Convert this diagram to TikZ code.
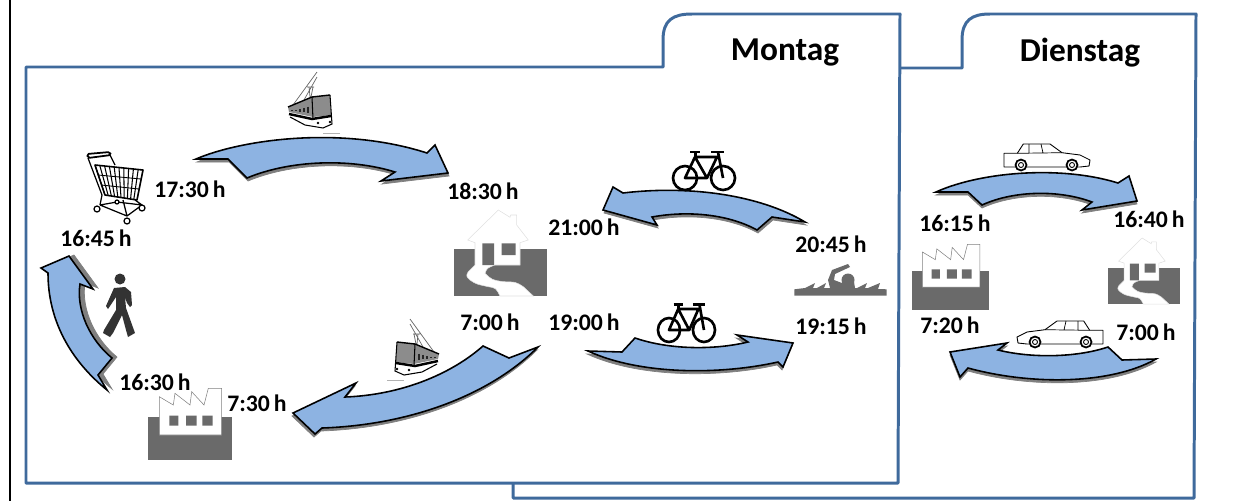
\documentclass[tikz,border=0pt]{standalone}
\usepackage{fontspec}
\setmainfont{Carlito}
\usetikzlibrary{positioning}

\definecolor{rahmenblau}{HTML}{3F6A9C}
\definecolor{pfeilblau}{HTML}{8DB3E2}
\definecolor{schatten}{HTML}{7F7F7F}
\definecolor{boden}{HTML}{6A6A6A}
\definecolor{figur}{HTML}{333333}

\tikzset{
  rahmen/.style = {draw=rahmenblau, line width=1.7pt, line join=round},
  pfeil/.style = {draw=black, fill=pfeilblau, line width=.9pt,
    preaction={draw=schatten, fill=schatten, transform canvas={shift={#1}}}},
  zeit/.style = {font=\bfseries\fontsize{13.5}{13.5}\selectfont, inner sep=0pt},
  tag/.style = {font=\bfseries\fontsize{19}{19}\selectfont, inner sep=0pt},
  haus/.pic = {
    \fill [boden] (0,39) rectangle (93,86);
    \draw [fill=white, draw=black!12, line width=.3pt] (44.3,0) -- (56,7.3) -- (56.7,5) -- (62.7,5) -- (62.7,15) -- (74.3,30) -- (66,32.7)
      -- (66,55) -- (41,55) .. controls (33,58) .. (31,63.3) .. controls (38,70) .. (49.3,71.7) .. controls (62,72) .. (69.3,76.7)
      -- (79.3,86) -- (46,86) .. controls (42,78) .. (34.3,76.7) .. controls (22,74) .. (16,70) .. controls (12,66) .. (14.3,61.7)
      -- (21,55) -- (21,32.7) -- (13.7,30) -- cycle;
    \fill [boden] (28.3,33.3) rectangle (40,55) (47.7,33.3) rectangle (61.7,45);
  },
  fabrik/.pic = {
    \fill [boden] (0,29) rectangle (84,72);
    \draw [fill=white, draw=black!50, line width=.3pt] (11.3,8.7) -- (25.3,17) -- (27,5.3) -- (42,17) -- (43.7,3.7) -- (56,17)
      -- (60.3,.3) -- (73.7,.3) -- (73.7,47) -- (11.3,47) -- cycle;
    \fill [boden] (21.3,27.7) rectangle (30.3,37.7) (38,27.7) rectangle (48.7,37.7) (54.3,27.7) rectangle (64.7,37.7);
  },
  bahn/.pic = {
    \draw [black!60, line width=.4pt] (-17,-5) -- (7,-38) (-10,-3) -- (7,-33) (-3,-23) -- (4,-23) (-1,-23) -- (0,-13) (3,-23) -- (1,-13);
    \draw [black!30, line width=.4pt] (13,23) -- (30,23);
    \fill [white] (-20,7) -- (-5,15) -- (13,18) -- (22,14) -- (21,5) -- (3,7) -- cycle;
    \fill [black!45] (-22,-3) -- (2,-13) -- (20,-15) -- (21,5) -- (3,7) -- (-21,2) -- cycle;
    \foreach \x in {-18,-14,...,-2} \draw [black!85, line width=.6pt] (\x,-4-\x*.3) -- (\x,3+\x*.15);
    \draw [black, line width=1.4pt] (-21,4) -- (2,9) -- (21,6);
    \draw [black, line width=.6pt] (-20,7) -- (-5,15) -- (13,18) -- (22,14) -- (20,-15) (2,-13) -- (3,9);
    \draw [black, line width=.8pt] (-22,-3) -- (2,-13) -- (20,-15);
    \fill [black] (8,13) circle (1.3) (20,12) circle (1.3);
  },
  fahrrad/.pic = {
    \draw [black, line width=1.5pt] (0,0) circle (12) (38,0) circle (12);
    \draw [black, line width=1.5pt, line join=round] (0,0) -- (10,-21) -- (22,0) -- cycle (10,-21) -- (32,-21) -- (22,0) (33,-26) -- (38,0);
    \draw [black, line width=1.7pt] (5,-26) -- (15,-26) (10,-26) -- (10,-21) (26,-26) -- (39,-26);
  },
  auto/.pic = {
    \draw [fill=white, draw=black, line width=.5pt, line join=round] (0,9.3) -- (13.3,9.3) -- (19.3,0) -- (46,0) -- (58,8.7) -- (76,11)
      -- (86,16) -- (85,22) -- (76,23) -- (0,23) -- cycle;
    \draw [black, line width=.4pt] (13.3,9.3) -- (58,8.7) (25,0) -- (25,9) (37,0) -- (39,9);
    \foreach \x in {17,68} \draw [fill=white, draw=black, line width=1pt] (\x,21) circle (5.5);
    \foreach \x in {17,68} \draw [black, line width=.5pt] (\x,21) circle (2.5);
  },
}

\begin{document}
\begin{tikzpicture}[x=.02cm, y=-.02cm]
  \useasboundingbox (0,0) rectangle (1247,501);

  \draw [black, line width=1.1pt] (10,0) -- (10,501);

  \draw [rahmen] (900,68) -- (962,68) -- (962,40) .. controls (962,20) and (972,14) .. (990,14) -- (1196,14) -- (1194,498) -- (513,498) -- (513,483);
  \draw [rahmen] (26,67) -- (663,67) -- (663,40) .. controls (663,20) and (673,14) .. (692,14) -- (900,14) -- (898,483) -- (26,483) -- cycle;

  \node (montag) [tag] at (785,53) {Montag};
  \node (dienstag) [tag] at (1080,53) {Dienstag};

  \path [pfeil={(1,3)}] (196,159) .. controls (240,140) and (340,125) .. (427,153) -- (435,145) -- (448,173) -- (381,181) -- (395,172)
    .. controls (350,158) and (290,160) .. (247,178) -- (228,159) -- cycle;
  \path [pfeil={(-1,3)}] (538,347) -- (509,358) -- (483,346) .. controls (450,375) and (400,395) .. (345,397) -- (356,383) -- (293,413)
    -- (315,434) -- (322,428) .. controls (410,425) and (490,395) .. (538,347) -- cycle;
  \path [pfeil={(5,-1)}] (41,268) -- (69,256) -- (93,289) -- (80,284) .. controls (76,310) and (90,340) .. (112,358) -- (98,375)
    -- (107,390) .. controls (70,360) and (48,320) .. (48,273) -- cycle;
  \path [pfeil={(1,3)}] (805,222) .. controls (760,195) and (690,185) .. (623,193) -- (613,187) -- (603,210) -- (657,225) -- (652,217)
    .. controls (690,210) and (730,215) .. (757,230) -- (772,217) -- cycle;
  \path [pfeil={(-1,3)}] (588,351) -- (622,352) -- (635,338) .. controls (670,350) and (715,350) .. (748,342) -- (737,335) -- (793,343)
    -- (783,367) -- (778,362) .. controls (720,375) and (640,375) .. (588,351) -- cycle;
  \path [pfeil={(0,3)}] (936,192) .. controls (980,172) and (1060,165) .. (1118,183) -- (1129,176) -- (1137,201) -- (1082,210) -- (1092,202)
    .. controls (1060,190) and (1015,190) .. (982,205) -- (968,192) -- cycle;
  \path [pfeil={(0,3)}] (1156,359) -- (1122,360) -- (1108,347) .. controls (1075,358) and (1030,358) .. (998,350) -- (1007,343) -- (950,352)
    -- (960,377) -- (968,368) .. controls (1030,385) and (1110,385) .. (1156,359) -- cycle;

  \node (z1730) [zeit] at (190,189) {17:30\,h};
  \node (z1645) [zeit] at (96,238) {16:45\,h};
  \node (z1830) [zeit] at (483,191) {18:30\,h};
  \node (z2100) [zeit] at (584,227) {21:00\,h};
  \node (z2045) [zeit] at (831,244) {20:45\,h};
  \node (z700a) [zeit] at (490,322) {7:00\,h};
  \node (z1900) [zeit] at (584,322) {19:00\,h};
  \node (z1915) [zeit] at (831,326) {19:15\,h};
  \node (z1630) [zeit] at (155,382) {16:30\,h};
  \node (z730) [zeit] at (257,403) {7:30\,h};
  \node (z1615) [zeit] at (955,223) {16:15\,h};
  \node (z1640) [zeit] at (1149,219) {16:40\,h};
  \node (z720) [zeit] at (950,325) {7:20\,h};
  \node (z700b) [zeit] at (1146,332) {7:00\,h};

  \pic at (454,210) {haus};
  \pic [scale=.77] at (1108,238) {haus};
  \pic at (148,388) {fabrik};
  \pic [scale=.92] at (912,244) {fabrik};
  \pic at (310,110) {bahn};
  \pic [xscale=-1] at (417,357) {bahn};
  \pic at (685,178) {fahrrad};
  \pic [xscale=.92] at (669,330) {fahrrad};
  \pic at (1004,144) {auto};
  \pic [xscale=-1] at (1103,321) {auto};

  % einkaufswagen
  \begin{scope}[shift={(80,145)}, black, line width=.7pt, line join=round]
    \draw [line width=1pt, rounded corners=1pt] (7,9) -- (30,7) -- (31,10) -- (8,13) -- cycle;
    \draw (8,13) -- (22,50) -- (20,60) (30,10) -- (35,20);
    \draw [line width=.9pt] (15,20) -- (63,25) -- (57,55) -- (25,50) -- cycle;
    \foreach \t in {0,.1,...,1} \draw [line width=.6pt] (15+48*\t,20+5*\t) -- (25+32*\t,50+5*\t);
    \draw [line width=.5pt] (18,30) -- (61,34) (21,40) -- (59,44);
    \draw (20,60) -- (47,71) -- (62,60) -- (55,55) (20,60) -- (37,57) -- (62,60) (47,71) -- (43,55);
    \draw [fill=white] (17,64) circle (3) (62,63) circle (3) (47,76) circle (3) (37,57) circle (2);
  \end{scope}

  % fussgaenger
  \fill [figur] (120,279) circle (5.5);
  \fill [figur] (114,288) -- (106,306) -- (108,309) -- (116,297) -- (116,310) -- (104,330) -- (103,333) -- (110,337) -- (113,333)
    -- (122,315) -- (126,330) -- (128,337) -- (135,333) -- (126,308) -- (125,297) -- (127,303) -- (130,307) -- (132,305) -- (131,292) -- (125,287) -- cycle;

  % schwimmer
  \begin{scope}[shift={(785,255)}]
    \fill [boden] (63,25) circle (6.5);
    \fill [boden] (9.3,34.3) -- (20,33) -- (30,28) -- (28,33) -- (32,33) -- (41,28) -- (39,33) -- (45,33) -- (43,25) -- (47,15) -- (63,9) -- (65,12)
      -- (50,19) -- (49,25) -- (57,28) -- (69,27) -- (70,33) -- (72,33) -- (82,28) -- (80,33) -- (83,33) -- (95,28) -- (93,34) -- (101.7,34.3)
      -- (101.7,40.7) -- (9.3,40.7) -- cycle;
  \end{scope}
\end{tikzpicture}
\end{document}
